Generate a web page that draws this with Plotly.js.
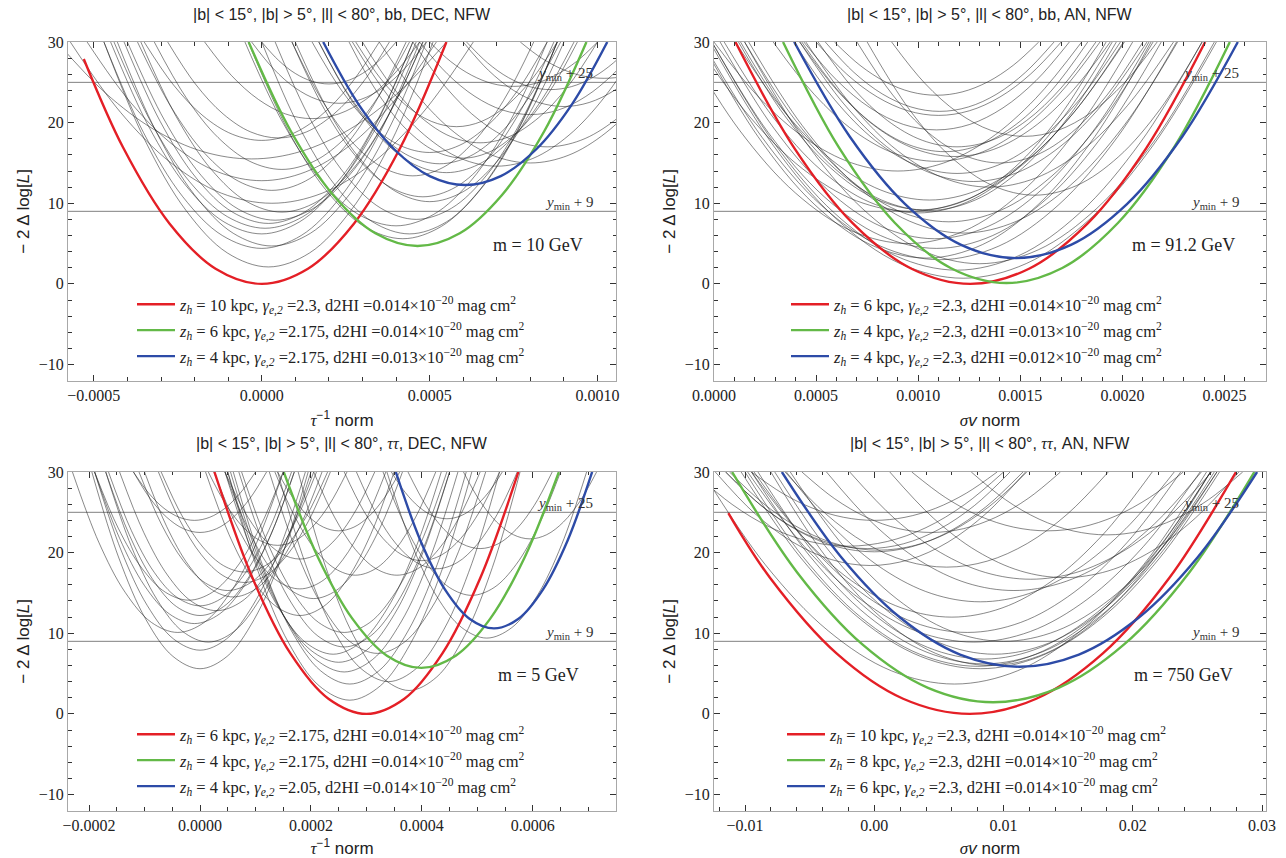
<!DOCTYPE html>
<html>
<head>
<meta charset="utf-8">
<script src="https://cdn.plot.ly/plotly-3.0.1.min.js"></script>
<style>html,body{margin:0;padding:0;background:#fff}#chart{width:1286px;height:858px}</style>
</head>
<body>
<div id="chart"></div>
<script>
// ---------------- DATA ----------------
// x values of each panel are given in units of the panel's unit constant
const UNIT_P1 = 1e-4, UNIT_P2 = 1e-4, UNIT_P3 = 1e-4, UNIT_P4 = 1e-3;

const channels = ['bb', 'bb', 'ττ', 'ττ'];
const modes = ['DEC', 'AN', 'DEC', 'AN'];
const masses = ['10', '91.2', '5', '750'];
const xTitles = ['tau', 'sv', 'tau', 'sv'];

// legend parameters (red, green, blue) per panel
const legZh = [['10', '6', '4'], ['6', '4', '4'], ['6', '4', '4'], ['10', '8', '6']];
const legGamma = [['2.3', '2.175', '2.175'], ['2.3', '2.3', '2.3'], ['2.175', '2.175', '2.05'], ['2.3', '2.3', '2.3']];
const legD2HI = [['0.014', '0.014', '0.013'], ['0.014', '0.013', '0.012'], ['0.014', '0.014', '0.014'], ['0.014', '0.014', '0.014']];

// highlighted curves [x points, y points]: red, green, blue
const p1Colored = [
  [[-5.3,-4.125,-2.75,-1.375,0,1.375,2.75,4.125,5.5],[27.9,16.88,7.5,1.88,0,1.88,7.5,16.88,30]],
  [[-0.39,0.868,2.125,3.383,4.64,5.898,7.155,8.413,9.67],[30,18.93,11.03,6.28,4.7,6.28,11.03,18.93,30]],
  [[1.83,2.888,3.945,5.003,6.06,7.118,8.175,9.233,10.29],[30,22.24,16.7,13.37,12.26,13.37,16.7,22.24,30]]
];
const p2Colored = [
  [[1.05,3.925,6.8,9.675,12.55,15.425,18.3,21.175,24.05],[30,16.88,7.5,1.88,0,1.88,7.5,16.88,30]],
  [[3.38,6.115,8.85,11.585,14.32,17.055,19.79,22.525,25.26],[30,16.92,7.58,1.97,0.1,1.97,7.58,16.92,30]],
  [[3.93,6.645,9.36,12.075,14.79,17.505,20.22,22.935,25.65],[30,18.28,9.9,4.88,3.2,4.88,9.9,18.28,30]]
];
const p3Colored = [
  [[0.26,0.945,1.63,2.315,3.0,3.685,4.37,5.055,5.74],[30,16.88,7.5,1.88,0,1.88,7.5,16.88,30]],
  [[1.51,2.13,2.75,3.37,3.99,4.61,5.23,5.85,6.47],[30,19.37,11.78,7.22,5.7,7.22,11.78,19.37,30]],
  [[3.53,3.973,4.415,4.858,5.3,5.743,6.185,6.628,7.07],[30,21.51,15.45,11.81,10.6,11.81,15.45,21.51,30]]
];
const p4Colored = [
  [[-11.29,-8.07,-2.92,2.23,7.38,12.53,17.68,22.83,27.98],[24.9,16.88,7.5,1.88,0,1.88,7.5,16.88,30]],
  [[-11.0,-5.95,-0.9,4.15,9.2,14.25,19.3,24.35,29.4],[30,17.51,8.58,3.23,1.44,3.23,8.58,17.51,30]],
  [[-7.15,-2.555,2.04,6.635,11.23,15.825,20.42,25.015,29.61],[30,19.43,11.89,7.36,5.85,7.36,11.89,19.43,30]]
];

// all other likelihood profiles
const p1Black = [
  [[-4.7,-3.475,-2.25,-1.025,0.2,1.425,2.65,3.875,5.1],[30,17.79,9.08,3.84,2.1,3.84,9.08,17.79,30]],
  [[-4.7,-3.525,-2.35,-1.175,0,1.175,2.35,3.525,4.7],[30,18.8,10.8,6.0,4.4,6.0,10.8,18.8,30]],
  [[-4.3,-3.15,-2.0,-0.85,0.3,1.45,2.6,3.75,4.9],[30,18.93,11.03,6.28,4.7,6.28,11.03,18.93,30]],
  [[-4.5,-3.375,-2.25,-1.125,0,1.125,2.25,3.375,4.5],[30,19.59,12.15,7.69,6.2,7.69,12.15,19.59,30]],
  [[-4.4,-3.275,-2.15,-1.025,0.1,1.225,2.35,3.475,4.6],[30,19.89,12.68,8.34,6.9,8.34,12.68,19.89,30]],
  [[-4.1,-3.025,-1.95,-0.875,0.2,1.275,2.35,3.425,4.5],[30,20.16,13.13,8.91,7.5,8.91,13.13,20.16,30]],
  [[-4.0,-2.9,-1.8,-0.7,0.4,1.5,2.6,3.7,4.8],[30,20.33,13.43,9.28,7.9,9.28,13.43,20.33,30]],
  [[-3.6,-2.55,-1.5,-0.45,0.6,1.65,2.7,3.75,4.8],[30,20.77,14.18,10.22,8.9,10.22,14.18,20.77,30]],
  [[-3.7,-2.7,-1.7,-0.7,0.3,1.3,2.3,3.3,4.3],[30,21.95,16.2,12.75,11.6,12.75,16.2,21.95,30]],
  [[-3.2,-2.25,-1.3,-0.35,0.6,1.55,2.5,3.45,4.4],[30,23.09,18.15,15.19,14.2,15.19,18.15,23.09,30]],
  [[-3.5,-2.625,-1.75,-0.875,0,0.875,1.75,2.625,3.5],[30,24.66,20.85,18.56,17.8,18.56,20.85,24.66,30]],
  [[-2.8,-1.975,-1.15,-0.325,0.5,1.325,2.15,2.975,3.8],[30,24.79,21.08,18.84,18.1,18.84,21.08,24.79,30]],
  [[-5.7,-4.2,-2.7,-1.2,0.3,1.8,3.3,4.8,6.3],[30,21.25,15,11.25,10,11.25,15,21.25,30]],
  [[-6.1,-4.65,-3.2,-1.75,-0.3,1.15,2.6,4.05,5.5],[30,23.66,19.13,16.41,15.5,16.41,19.13,23.66,30]],
  [[-5.2,-3.9,-2.6,-1.3,0,1.3,2.6,3.9,5.2],[30,22.48,17.1,13.88,12.8,13.88,17.1,22.48,30]],
  [[-0.3,0.35,1.0,1.65,2.3,2.95,3.6,4.25,4.9],[30,26.68,24.3,22.88,22.4,22.88,24.3,26.68,30]],
  [[0,0.5,1.0,1.5,2.0,2.5,3.0,3.5,4.0],[30,27.73,26.1,25.13,24.8,25.13,26.1,27.73,30]],
  [[-1.7,-0.9,-0.1,0.7,1.5,2.3,3.1,3.9,4.7],[30,25.84,22.88,21.09,20.5,21.09,22.88,25.84,30]],
  [[-0.4,0.75,1.9,3.05,4.2,5.35,6.5,7.65,8.8],[30,19.33,11.7,7.13,5.6,7.13,11.7,19.33,30]],
  [[0,1.1,2.2,3.3,4.4,5.5,6.6,7.7,8.8],[30,19.59,12.15,7.69,6.2,7.69,12.15,19.59,30]],
  [[-0.5,0.625,1.75,2.875,4.0,5.125,6.25,7.375,8.5],[30,20.03,12.9,8.63,7.2,8.63,12.9,20.03,30]],
  [[0.4,1.45,2.5,3.55,4.6,5.65,6.7,7.75,8.8],[30,20.38,13.5,9.38,8.0,9.38,13.5,20.38,30]],
  [[1,2,3,4,5,6,7,8,9],[30,21.34,15.15,11.44,10.2,11.44,15.15,21.34,30]],
  [[0.9,1.875,2.85,3.825,4.8,5.775,6.75,7.725,8.7],[30,21.6,15.6,12.0,10.8,12.0,15.6,21.6,30]],
  [[0.9,1.8,2.7,3.6,4.5,5.4,6.3,7.2,8.1],[30,22.74,17.55,14.44,13.4,14.44,17.55,22.74,30]],
  [[1.7,2.65,3.6,4.55,5.5,6.45,7.4,8.35,9.3],[30,22.91,17.85,14.81,13.8,14.81,17.85,22.91,30]],
  [[1.5,2.375,3.25,4.125,5.0,5.875,6.75,7.625,8.5],[30,24.01,19.73,17.16,16.3,17.16,19.73,24.01,30]],
  [[2.6,3.45,4.3,5.15,6.0,6.85,7.7,8.55,9.4],[30,23.7,19.2,16.5,15.6,16.5,19.2,23.7,30]],
  [[1.7,2.6,3.5,4.4,5.3,6.2,7.1,8.0,8.9],[30,23.39,18.68,15.84,14.9,15.84,18.68,23.39,30]],
  [[2.8,3.55,4.3,5.05,5.8,6.55,7.3,8.05,8.8],[30,25.41,22.13,20.16,19.5,20.16,22.13,25.41,30]],
  [[3.0,3.875,4.75,5.625,6.5,7.375,8.25,9.125,10.0],[30,24.53,20.63,18.28,17.5,18.28,20.63,24.53,30]],
  [[6.1,6.725,7.35,7.975,8.6,9.225,9.85,10.475,11.1],[30,27.42,25.58,24.47,24.1,24.47,25.58,27.42,30]],
  [[6.0,6.75,7.5,8.25,9.0,9.75,10.5,11.25,12.0],[30,26.5,24,22.5,22,22.5,24,26.5,30]],
  [[4.7,5.525,6.35,7.175,8.0,8.825,9.65,10.475,11.3],[30,26.06,23.25,21.56,21,21.56,23.25,26.06,30]],
  [[7.7,8.325,8.95,9.575,10.2,10.825,11.45,12.075,12.7],[30,28.03,26.63,25.78,25.5,25.78,26.63,28.03,30]],
  [[5.0,5.625,6.25,6.875,7.5,8.125,8.75,9.375,10.0],[30,27.59,25.88,24.84,24.5,24.84,25.88,27.59,30]],
  [[3.5,4.625,5.75,6.875,8.0,9.125,10.25,11.375,12.5],[30,23.44,18.75,15.94,15,15.94,18.75,23.44,30]],
  [[4.5,5.5,6.5,7.5,8.5,9.5,10.5,11.5,12.5],[30,24.31,20.25,17.81,17,17.81,20.25,24.31,30]],
  [[2.7,3.775,4.85,5.925,7.0,8.075,9.15,10.225,11.3],[30,23.26,18.45,15.56,14.6,15.56,18.45,23.26,30]]
];
const p2Black = [
  [[-0.2,2.9,6.0,9.1,12.2,15.3,18.4,21.5,24.6],[30,17.18,8.03,2.53,0.7,2.53,8.03,17.18,30]],
  [[-0.1,2.9,5.9,8.9,11.9,14.9,17.9,20.9,23.9],[30,17.62,8.78,3.47,1.7,3.47,8.78,17.62,30]],
  [[-0.55,2.35,5.25,8.15,11.05,13.95,16.85,19.75,22.65],[30,18.19,9.75,4.69,3.0,4.69,9.75,18.19,30]],
  [[-0.6,2.15,4.9,7.65,10.4,13.15,15.9,18.65,21.4],[30,18.28,9.9,4.88,3.2,4.88,9.9,18.28,30]],
  [[-0.1,2.65,5.4,8.15,10.9,13.65,16.4,19.15,21.9],[30,18.8,10.8,6.0,4.4,6.0,10.8,18.8,30]],
  [[0.3,2.925,5.55,8.175,10.8,13.425,16.05,18.675,21.3],[30,19.33,11.7,7.13,5.6,7.13,11.7,19.33,30]],
  [[1.7,4.325,6.95,9.575,12.2,14.825,17.45,20.075,22.7],[30,19.63,12.23,7.78,6.3,7.78,12.23,19.63,30]],
  [[1.5,4.0,6.5,9.0,11.5,14.0,16.5,19.0,21.5],[30,20.24,13.28,9.09,7.7,9.09,13.28,20.24,30]],
  [[0.5,2.875,5.25,7.625,10.0,12.375,14.75,17.125,19.5],[30,20.73,14.1,10.13,8.8,10.13,14.1,20.73,30]],
  [[1.3,3.6,5.9,8.2,10.5,12.8,15.1,17.4,19.7],[30,20.86,14.33,10.41,9.1,10.41,14.33,20.86,30]],
  [[-0.9,1.725,4.35,6.975,9.6,12.225,14.85,17.475,20.1],[30,20.81,14.25,10.31,9.0,10.31,14.25,20.81,30]],
  [[1.05,3.425,5.8,8.175,10.55,12.925,15.3,17.675,20.05],[30,21.43,15.3,11.63,10.4,11.63,15.3,21.43,30]],
  [[7.5,9.55,11.6,13.65,15.7,17.75,19.8,21.85,23.9],[30,21.69,15.75,12.19,11,12.19,15.75,21.69,30]],
  [[4.2,6.325,8.45,10.575,12.7,14.825,16.95,19.075,21.2],[30,22.43,17.03,13.78,12.7,13.78,17.03,22.43,30]],
  [[3.9,5.9,7.9,9.9,11.9,13.9,15.9,17.9,19.9],[30,22.87,17.78,14.72,13.7,14.72,17.78,22.87,30]],
  [[2.9,4.9,6.9,8.9,10.9,12.9,14.9,16.9,18.9],[30,23.53,18.9,16.13,15.2,16.13,18.9,23.53,30]],
  [[4.2,6.1,8.0,9.9,11.8,13.7,15.6,17.5,19.4],[30,23.79,19.35,16.69,15.8,16.69,19.35,23.79,30]],
  [[4.3,6.05,7.8,9.55,11.3,13.05,14.8,16.55,18.3],[30,24.05,19.8,17.25,16.4,17.25,19.8,24.05,30]],
  [[5.1,6.8,8.5,10.2,11.9,13.6,15.3,17.0,18.7],[30,24.31,20.25,17.81,17,17.81,20.25,24.31,30]],
  [[8.7,10.325,11.95,13.575,15.2,16.825,18.45,20.075,21.7],[30,24.88,21.23,19.03,18.3,19.03,21.23,24.88,30]],
  [[4.4,6.025,7.65,9.275,10.9,12.525,14.15,15.775,17.4],[30,25.23,21.83,19.78,19.1,19.78,21.83,25.23,30]],
  [[5.0,6.5,8.0,9.5,11.0,12.5,14.0,15.5,17.0],[30,26.02,23.18,21.47,20.9,21.47,23.18,26.02,30]],
  [[5.45,6.85,8.25,9.65,11.05,12.45,13.85,15.25,16.65],[30,26.24,23.55,21.94,21.4,21.94,23.55,26.24,30]],
  [[5.9,7.15,8.4,9.65,10.9,12.15,13.4,14.65,15.9],[30,27.11,25.05,23.81,23.4,23.81,25.05,27.11,30]],
  [[4.5,6.75,9.0,11.25,13.5,15.75,18.0,20.25,22.5],[30,22.13,16.5,13.13,12,13.13,16.5,22.13,30]],
  [[0,2.25,4.5,6.75,9.0,11.25,13.5,15.75,18.0],[30,23,18,15,14,15,18,23,30]],
  [[-1.5,1.25,4.0,6.75,9.5,12.25,15.0,17.75,20.5],[30,19.06,11.25,6.56,5,6.56,11.25,19.06,30]],
  [[7.0,8.75,10.5,12.25,14.0,15.75,17.5,19.25,21.0],[30,23.44,18.75,15.94,15,15.94,18.75,23.44,30]],
  [[1.2,3.45,5.7,7.95,10.2,12.45,14.7,16.95,19.2],[30,20.9,14.4,10.5,9.2,10.5,14.4,20.9,30]],
  [[1.5,4.375,7.25,10.125,13.0,15.875,18.75,21.625,24.5],[30,17.97,9.38,4.22,2.5,4.22,9.38,17.97,30]]
];
const p3Black = [
  [[-1.95,-1.463,-0.975,-0.488,0,0.488,0.975,1.463,1.95],[30,19.33,11.7,7.13,5.6,7.13,11.7,19.33,30]],
  [[-1.9,-1.425,-0.95,-0.475,0,0.475,0.95,1.425,1.9],[30,20.33,13.43,9.28,7.9,9.28,13.43,20.33,30]],
  [[-1.7,-1.238,-0.775,-0.313,0.15,0.613,1.075,1.538,2.0],[30,20.77,14.18,10.22,8.9,10.22,14.18,20.77,30]],
  [[-2.3,-1.825,-1.35,-0.875,-0.4,0.075,0.55,1.025,1.5],[30,21.29,15.08,11.34,10.1,11.34,15.08,21.29,30]],
  [[-1.9,-1.45,-1.0,-0.55,-0.1,0.35,0.8,1.25,1.7],[30,21.78,15.9,12.38,11.2,12.38,15.9,21.78,30]],
  [[-1.7,-1.275,-0.85,-0.425,0,0.425,0.85,1.275,1.7],[30,22.21,16.65,13.31,12.2,13.31,16.65,22.21,30]],
  [[-1.45,-1.013,-0.575,-0.138,0.3,0.738,1.175,1.613,2.05],[30,22.48,17.1,13.88,12.8,13.88,17.1,22.48,30]],
  [[-1.65,-1.238,-0.825,-0.413,0,0.413,0.825,1.238,1.65],[30,22.74,17.55,14.44,13.4,14.44,17.55,22.74,30]],
  [[-1.9,-1.475,-1.05,-0.625,-0.2,0.225,0.65,1.075,1.5],[30,23.04,18.08,15.09,14.1,15.09,18.08,23.04,30]],
  [[-1.0,-0.6,-0.2,0.2,0.6,1.0,1.4,1.8,2.2],[30,23.22,18.38,15.47,14.5,15.47,18.38,23.22,30]],
  [[-1.1,-0.7,-0.3,0.1,0.5,0.9,1.3,1.7,2.1],[30,23.57,18.98,16.22,15.3,16.22,18.98,23.57,30]],
  [[-0.75,-0.363,0.025,0.413,0.8,1.188,1.575,1.963,2.35],[30,24.01,19.73,17.16,16.3,17.16,19.73,24.01,30]],
  [[-0.7,-0.325,0.05,0.425,0.8,1.175,1.55,1.925,2.3],[30,24.58,20.7,18.38,17.6,18.38,20.7,24.58,30]],
  [[-1.2,-0.9,-0.6,-0.3,0,0.3,0.6,0.9,1.2],[30,26.72,24.38,22.97,22.5,22.97,24.38,26.72,30]],
  [[-1.2,-0.925,-0.65,-0.375,-0.1,0.175,0.45,0.725,1.0],[30,27.38,25.5,24.38,24,24.38,25.5,27.38,30]],
  [[0.5,1.05,1.6,2.15,2.7,3.25,3.8,4.35,4.9],[30,17.62,8.78,3.47,1.7,3.47,8.78,17.62,30]],
  [[0.6,1.125,1.65,2.175,2.7,3.225,3.75,4.275,4.8],[30,18.49,10.28,5.34,3.7,5.34,10.28,18.49,30]],
  [[1.77,2.27,2.77,3.27,3.77,4.27,4.77,5.27,5.77],[30,18.14,9.68,4.59,2.9,4.59,9.68,18.14,30]],
  [[0.55,1.063,1.575,2.088,2.6,3.113,3.625,4.138,4.65],[30,19.15,11.4,6.75,5.2,6.75,11.4,19.15,30]],
  [[0.5,1.0,1.5,2.0,2.5,3.0,3.5,4.0,4.5],[30,19.68,12.3,7.88,6.4,7.88,12.3,19.68,30]],
  [[0.45,0.938,1.425,1.913,2.4,2.888,3.375,3.863,4.35],[30,20.11,13.05,8.81,7.4,8.81,13.05,20.11,30]],
  [[0.7,1.175,1.65,2.125,2.6,3.075,3.55,4.025,4.5],[30,20.51,13.73,9.66,8.3,9.66,13.73,20.51,30]],
  [[1.25,1.738,2.225,2.713,3.2,3.688,4.175,4.663,5.15],[30,20.16,13.13,8.91,7.5,8.91,13.13,20.16,30]],
  [[0.75,1.213,1.675,2.138,2.6,3.063,3.525,3.988,4.45],[30,21.29,15.08,11.34,10.1,11.34,15.08,21.29,30]],
  [[0.1,0.525,0.95,1.375,1.8,2.225,2.65,3.075,3.5],[30,22.21,16.65,13.31,12.2,13.31,16.65,22.21,30]],
  [[0.45,0.85,1.25,1.65,2.05,2.45,2.85,3.25,3.65],[30,23.13,18.23,15.28,14.3,15.28,18.23,23.13,30]],
  [[0.25,0.638,1.025,1.413,1.8,2.188,2.575,2.963,3.35],[30,23.66,19.13,16.41,15.5,16.41,19.13,23.66,30]],
  [[1.35,1.713,2.075,2.438,2.8,3.163,3.525,3.888,4.25],[30,24.4,20.4,18.0,17.2,18.0,20.4,24.4,30]],
  [[0.45,0.788,1.125,1.463,1.8,2.138,2.475,2.813,3.15],[30,25.28,21.9,19.88,19.2,19.88,21.9,25.28,30]],
  [[0.15,0.463,0.775,1.088,1.4,1.713,2.025,2.338,2.65],[30,26.02,23.18,21.47,20.9,21.47,23.18,26.02,30]],
  [[1.4,1.675,1.95,2.225,2.5,2.775,3.05,3.325,3.6],[30,26.81,24.53,23.16,22.7,23.16,24.53,26.81,30]],
  [[3.37,3.82,4.27,4.72,5.17,5.62,6.07,6.52,6.97],[30,20.99,14.55,10.69,9.4,10.69,14.55,20.99,30]],
  [[3.3,3.7,4.1,4.5,4.9,5.3,5.7,6.1,6.5],[30,23.31,18.53,15.66,14.7,15.66,18.53,23.31,30]],
  [[2.05,2.425,2.8,3.175,3.55,3.925,4.3,4.675,5.05],[30,24.4,20.4,18.0,17.2,18.0,20.4,24.4,30]],
  [[2.82,3.183,3.545,3.908,4.27,4.633,4.995,5.358,5.72],[30,24.75,21,18.75,18,18.75,21,24.75,30]],
  [[4.75,5.05,5.35,5.65,5.95,6.25,6.55,6.85,7.15],[30,26.37,23.78,22.22,21.7,22.22,23.78,26.37,30]],
  [[3.75,4.075,4.4,4.725,5.05,5.375,5.7,6.025,6.35],[30,25.84,22.88,21.09,20.5,21.09,22.88,25.84,30]],
  [[3.45,3.7,3.95,4.2,4.45,4.7,4.95,5.2,5.45],[30,27.46,25.65,24.56,24.2,24.56,25.65,27.46,30]],
  [[1.4,1.9,2.4,2.9,3.4,3.9,4.4,4.9,5.4],[30,18.63,10.5,5.63,4,5.63,10.5,18.63,30]],
  [[2.6,2.95,3.3,3.65,4.0,4.35,4.7,5.05,5.4],[30,25.19,21.75,19.69,19,19.69,21.75,25.19,30]]
];
const p4Black = [
  [[-13.3,-8.425,-3.55,1.325,6.2,11.075,15.95,20.825,25.7],[30,18.49,10.28,5.34,3.7,5.34,10.28,18.49,30]],
  [[-10.3,-5.675,-1.05,3.575,8.2,12.825,17.45,22.075,26.7],[30,19.33,11.7,7.13,5.6,7.13,11.7,19.33,30]],
  [[-10,-5.5,-1,3.5,8,12.5,17,21.5,26],[30,19.46,11.93,7.41,5.9,7.41,11.93,19.46,30]],
  [[-9.5,-5,-0.5,4,8.5,13,17.5,22,26.5],[30,19.59,12.15,7.69,6.2,7.69,12.15,19.59,30]],
  [[-9.0,-4.625,-0.25,4.125,8.5,12.875,17.25,21.625,26.0],[30,19.85,12.6,8.25,6.8,8.25,12.6,19.85,30]],
  [[-7.7,-3.45,0.8,5.05,9.3,13.55,17.8,22.05,26.3],[30,20.11,13.05,8.81,7.4,8.81,13.05,20.11,30]],
  [[-9.8,-5.425,-1.05,3.325,7.7,12.075,16.45,20.825,25.2],[30,20.77,14.18,10.22,8.9,10.22,14.18,20.77,30]],
  [[-9.3,-5.175,-1.05,3.075,7.2,11.325,15.45,19.575,23.7],[30,21.29,15.08,11.34,10.1,11.34,15.08,21.29,30]],
  [[-6.8,-3.05,0.7,4.45,8.2,11.95,15.7,19.45,23.2],[30,22.96,17.93,14.91,13.9,14.91,17.93,22.96,30]],
  [[-3.7,-0.075,3.55,7.175,10.8,14.425,18.05,21.675,25.3],[30,23.57,18.98,16.22,15.3,16.22,18.98,23.57,30]],
  [[-1.9,1.6,5.1,8.6,12.1,15.6,19.1,22.6,26.1],[30,24.18,20.03,17.53,16.7,17.53,20.03,24.18,30]],
  [[1.2,4.575,7.95,11.325,14.7,18.075,21.45,24.825,28.2],[30,24.27,20.18,17.72,16.9,17.72,20.18,24.27,30]],
  [[-6.9,-3.775,-0.65,2.475,5.6,8.725,11.85,14.975,18.1],[30,24.84,21.15,18.94,18.2,18.94,21.15,24.84,30]],
  [[-12.3,-9.3,-6.3,-3.3,-0.3,2.7,5.7,8.7,11.7],[30,24.93,21.3,19.13,18.4,19.13,21.3,24.93,30]],
  [[-11.5,-8.625,-5.75,-2.875,0,2.875,5.75,8.625,11.5],[30,25.67,22.58,20.72,20.1,20.72,22.58,25.67,30]],
  [[-11.2,-8.325,-5.45,-2.575,0.3,3.175,6.05,8.925,11.8],[30,25.76,22.73,20.91,20.3,20.91,22.73,25.76,30]],
  [[-11.5,-8.75,-6.0,-3.25,-0.5,2.25,5.0,7.75,10.5],[30,25.84,22.88,21.09,20.5,21.09,22.88,25.84,30]],
  [[-5.6,-3.1,-0.6,1.9,4.4,6.9,9.4,11.9,14.4],[30,26.72,24.38,22.97,22.5,22.97,24.38,26.72,30]],
  [[2.9,5.525,8.15,10.775,13.4,16.025,18.65,21.275,23.9],[30,26.81,24.53,23.16,22.7,23.16,24.53,26.81,30]],
  [[-9.5,-7.125,-4.75,-2.375,0,2.375,4.75,7.125,9.5],[30,27.38,25.5,24.38,24,24.38,25.5,27.38,30]],
  [[7.5,10.125,12.75,15.375,18.0,20.625,23.25,25.875,28.5],[30,26.59,24.15,22.69,22.2,22.69,24.15,26.59,30]],
  [[-6.5,-2.375,1.75,5.875,10.0,14.125,18.25,22.375,26.5],[30,20.81,14.25,10.31,9,10.31,14.25,20.81,30]],
  [[-9.5,-5.625,-1.75,2.125,6.0,9.875,13.75,17.625,21.5],[30,22.13,16.5,13.13,12,13.13,16.5,22.13,30]],
  [[-8.0,-3.75,0.5,4.75,9.0,13.25,17.5,21.75,26.0],[30,19.5,12,7.5,6,7.5,12,19.5,30]],
  [[-14,-11,-8,-5,-2,1,4,7,10],[30,25.98,23.1,21.38,20.8,21.38,23.1,25.98,30]]
];

// axis settings per panel
const xRanges = [[-0.000577, 0.001055], [0, 0.002703], [-0.000238, 0.00075], [-0.0124, 0.0303]];
const xDticks = [0.0005, 0.0005, 0.0002, 0.01];
const xMinor = [0.0001, 0.0001, 0.00005, 0.002];
const xFormats = ['.4f', '.4f', '.4f', '.2f'];
const yRange = [-12, 30];
const refLevels = [9, 25];

// ---------------- STYLE ----------------
const COLORS = ['#e41f26', '#63b947', '#2d4ba7'];
const SANS = 'Liberation Sans, Arial, sans-serif';
const SERIF = 'Liberation Serif, Times New Roman, serif';
const W = 1286, H = 858;
const xDom = [[68 / W, 616 / W], [714 / W, 1266 / W], [68 / W, 616 / W], [714 / W, 1266 / W]];
const yDom = [[0.5564, 0.9510], [0.5564, 0.9510], [0.0552, 0.4499], [0.0552, 0.4499]];
const legendPos = [[132 / W, 1 - 287 / H], [786 / W, 1 - 287 / H], [132 / W, 1 - 717 / H], [782 / W, 1 - 717 / H]];

const blackSets = [p1Black, p2Black, p3Black, p4Black];
const colorSets = [p1Colored, p2Colored, p3Colored, p4Colored];
const units = [UNIT_P1, UNIT_P2, UNIT_P3, UNIT_P4];

function legLabel(i, k) {
  return '<i>z<sub>h</sub></i> = ' + legZh[i][k] + ' kpc, <i>γ<sub>e,2</sub></i> =' + legGamma[i][k] +
    ', d2HI =' + legD2HI[i][k] + '×10<sup>−20</sup> mag cm<sup>2</sup>';
}

const traces = [];
const layout = {
  width: W, height: H, autosize: false,
  margin: {l: 0, r: 0, t: 0, b: 0},
  paper_bgcolor: '#fff', plot_bgcolor: '#fff',
  showlegend: true, hovermode: false,
  annotations: [], shapes: []
};

for (let i = 0; i < 4; i++) {
  const sfx = i === 0 ? '' : String(i + 1);
  const xa = 'x' + sfx, ya = 'y' + sfx;
  const legName = 'legend' + sfx;
  blackSets[i].forEach(c => {
    traces.push({
      type: 'scatter', mode: 'lines', xaxis: xa, yaxis: ya,
      x: c[0].map(v => v * units[i]), y: c[1],
      line: {color: 'rgba(30,30,30,0.7)', width: 0.75, shape: 'spline', smoothing: 1},
      showlegend: false, hoverinfo: 'skip'
    });
  });
  colorSets[i].forEach((c, k) => {
    traces.push({
      type: 'scatter', mode: 'lines', xaxis: xa, yaxis: ya,
      x: c[0].map(v => v * units[i]), y: c[1],
      line: {color: COLORS[k], width: 2.4, shape: 'spline', smoothing: 1},
      name: legLabel(i, k), legend: legName, legendgroup: 'g' + i + k, showlegend: true
    });
  });

  const xTitle = xTitles[i] === 'tau'
    ? '<span style="font-family:Liberation Serif"><i>τ</i></span><sup>−1</sup> norm'
    : '<span style="font-family:Liberation Serif"><i>σ</i></span><i>v</i> norm';

  layout['xaxis' + sfx] = {
    domain: xDom[i], range: xRanges[i], anchor: ya,
    tick0: 0, dtick: xDticks[i], tickformat: xFormats[i],
    showline: true, linecolor: '#a8a8a8', linewidth: 1, mirror: 'allticks',
    ticks: 'inside', ticklen: 6, tickwidth: 1, tickcolor: '#333',
    minor: {dtick: xMinor[i], tick0: 0, ticks: 'inside', ticklen: 3.5, tickwidth: 1, tickcolor: '#333', showgrid: false},
    showgrid: false, zeroline: false,
    tickfont: {family: SERIF, size: 16, color: '#222'},
    title: {text: xTitle, font: {family: SANS, size: 17, color: '#222'}, standoff: 11}
  };
  layout['yaxis' + sfx] = {
    domain: yDom[i], range: yRange, anchor: xa,
    tick0: 0, dtick: 10,
    showline: true, linecolor: '#a8a8a8', linewidth: 1, mirror: 'allticks',
    ticks: 'inside', ticklen: 6, tickwidth: 1, tickcolor: '#333',
    minor: {dtick: 2, tick0: 0, ticks: 'inside', ticklen: 3.5, tickwidth: 1, tickcolor: '#333', showgrid: false},
    showgrid: false, zeroline: false,
    tickfont: {family: SERIF, size: 16, color: '#222'},
    title: {text: '− 2 Δ log[<i>L</i>]', font: {family: SANS, size: 17, color: '#222'}, standoff: 4}
  };
  layout[legName] = {
    x: legendPos[i][0], y: legendPos[i][1], xanchor: 'left', yanchor: 'top',
    bgcolor: 'rgba(0,0,0,0)', borderwidth: 0, itemwidth: 38, tracegroupgap: 1.5,
    font: {family: SERIF, size: 16.5, color: '#222'}
  };

  // panel title
  const chText = channels[i] === 'ττ' ? '<span style="font-family:Liberation Serif"><i>ττ</i></span>' : channels[i];
  layout.annotations.push({
    xref: 'paper', yref: 'paper', x: (xDom[i][0] + xDom[i][1]) / 2, y: yDom[i][1] + 28 / H,
    xanchor: 'center', yanchor: 'middle', showarrow: false,
    text: '|b| &lt; 15°, |b| &gt; 5°, |l| &lt; 80°, ' + chText + ', ' + modes[i] + ', NFW',
    font: {family: SANS, size: 16, color: '#222'}
  });
  // mass label
  layout.annotations.push({
    xref: xa + ' domain', yref: ya, x: i % 2 === 0 ? 0.858 : 0.851, y: 4.8,
    xanchor: 'center', yanchor: 'middle', showarrow: false,
    text: 'm = ' + masses[i] + ' GeV', font: {family: SERIF, size: 18, color: '#222'}
  });
  // reference levels
  refLevels.forEach(lv => {
    layout.shapes.push({
      type: 'line', xref: xa + ' domain', yref: ya, x0: 0, x1: 1, y0: lv, y1: lv,
      line: {color: '#808080', width: 1}, layer: 'below'
    });
    layout.annotations.push({
      xref: xa + ' domain', yref: ya, x: i % 2 === 0 ? 0.962 : 0.955, y: lv,
      xanchor: 'right', yanchor: 'bottom', yshift: -3, showarrow: false,
      text: '<i>y</i><sub>min</sub> + ' + lv, font: {family: SERIF, size: 15, color: '#333'}
    });
  });
}

Plotly.newPlot('chart', traces, layout, {staticPlot: true, displayModeBar: false});
</script>
</body>
</html>
